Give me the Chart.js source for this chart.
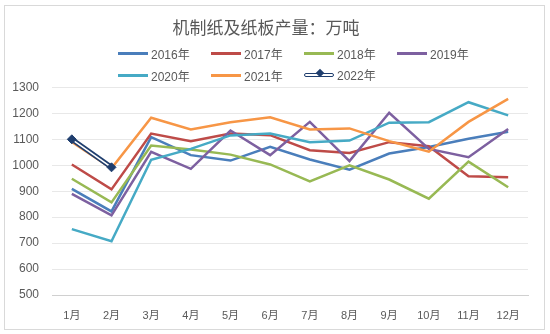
<!DOCTYPE html>
<html>
<head>
<meta charset="utf-8">
<script src="https://cdn.jsdelivr.net/npm/chart.js@4"></script>
<style>
  body { margin: 0; background: #fff; }
  #wrap { position: relative; width: 550px; height: 334px; }
  #frame { position: absolute; left: 4px; top: 5px; width: 539px; height: 323px; border: 1px solid #d9d9d9; pointer-events: none; }
  #legend { position: absolute; left: 118px; top: 43px; width: 380px; font: 12px "Liberation Sans", "Noto Sans CJK SC", sans-serif; color: #595959; }
  .item { display: inline-flex; align-items: center; width: 93px; height: 21px; }
  .swatch { position: relative; width: 30px; height: 3px; margin-right: 3px; }
</style>
</head>
<body>
<div id="wrap">
  <canvas id="myChart" width="550" height="334"></canvas>
  <div id="frame"></div>
  <div id="legend"></div>
</div>
<script>
var months = ['1月','2月','3月','4月','5月','6月','7月','8月','9月','10月','11月','12月'];
var years = ['2016年','2017年','2018年','2019年','2020年','2021年','2022年'];
var colors = ['#4a7ebb','#be4b48','#98b954','#7d60a0','#46aac5','#f79646','#1f3e6e'];

var y2016 = [909, 822, 1108, 1039, 1018, 1071, 1022, 983, 1045, 1070, 1102, 1129];
var y2017 = [1003, 907, 1122, 1093, 1122, 1116, 1058, 1047, 1089, 1073, 958, 954];
var y2018 = [948, 857, 1076, 1061, 1041, 1003, 938, 1000, 945, 871, 1014, 915];
var y2019 = [890, 807, 1052, 986, 1134, 1039, 1167, 1016, 1202, 1063, 1031, 1140];
var y2020 = [754, 707, 1021, 1063, 1115, 1122, 1089, 1095, 1164, 1166, 1243, 1192];
var y2021 = [1090, 988, 1183, 1138, 1166, 1185, 1138, 1142, 1093, 1052, 1167, 1256];
var y2022 = [1100, 992];

var yTicks = [500, 600, 700, 800, 900, 1000, 1100, 1200, 1300];

var series = [y2016, y2017, y2018, y2019, y2020, y2021];
var datasets = series.map(function (d, i) {
  return {
    label: years[i],
    data: d,
    borderColor: colors[i],
    borderWidth: 2.5,
    pointRadius: 0,
    tension: 0,
    order: 10 - i
  };
});
// 2022: navy outline, white inside, diamond markers
datasets.push({ label: years[6], data: y2022, borderColor: colors[6], borderWidth: 5, pointRadius: 0, order: 2 });
datasets.push({ label: years[6] + '-in', data: y2022, borderColor: '#ffffff', borderWidth: 1.6, pointRadius: 0, order: 1 });
datasets.push({ label: years[6] + '-pt', data: y2022, showLine: false, pointStyle: 'rectRot', pointRadius: 4.5,
  pointBackgroundColor: colors[6], pointBorderColor: colors[6], order: 0 });

var ctx = document.getElementById('myChart').getContext('2d');
var myChart = new Chart(ctx, {
  type: 'line',
  data: { labels: months, datasets: datasets },
  options: {
    responsive: false,
    animation: false,
    layout: { padding: { left: 4, right: 22, top: 0, bottom: 9 } },
    scales: {
      x: {
        offset: true,
        grid: { display: false, offset: true },
        border: { display: true, color: '#d0d0d0', width: 1 },
        ticks: { color: '#595959', font: { size: 11, family: '"Liberation Sans", "Noto Sans CJK SC", sans-serif' }, padding: 6, maxRotation: 0, autoSkip: false },
        afterFit: function (s) { s.height = 30; }
      },
      y: {
        min: 500,
        max: 1300,
        afterBuildTicks: function (s) { s.ticks = yTicks.map(function (v) { return { value: v }; }); },
        grid: { color: '#e8e8e8', drawTicks: false },
        border: { display: false },
        ticks: {
          color: '#595959',
          font: { size: 12, family: '"Liberation Sans", "Noto Sans CJK SC", sans-serif' },
          padding: 13,
          callback: function (v) { return String(v); }
        },
        afterFit: function (s) { s.width = 48; }
      }
    },
    plugins: {
      legend: { display: false },
      tooltip: { enabled: false },
      title: {
        display: true,
        text: '机制纸及纸板产量：万吨',
        color: '#595959',
        font: { size: 17, weight: 'normal', family: '"Noto Sans CJK SC", sans-serif' },
        padding: { top: 17, bottom: 50 }
      }
    }
  }
});

// html legend, two rows like the original
var legend = document.getElementById('legend');
years.forEach(function (y, i) {
  var item = document.createElement('div');
  item.className = 'item';
  var sw = document.createElement('span');
  sw.className = 'swatch';
  if (i === 6) {
    sw.style.height = '4px';
    sw.style.border = '1.5px solid ' + colors[6];
    sw.style.boxSizing = 'border-box';
    sw.style.borderRadius = '2px';
    sw.style.background = '#fff';
    var dot = document.createElement('span');
    dot.style.cssText = 'position:absolute;left:12px;top:-4px;width:6px;height:6px;background:' + colors[6] + ';transform:rotate(45deg);';
    sw.appendChild(dot);
  } else {
    sw.style.background = colors[i];
  }
  item.appendChild(sw);
  item.appendChild(document.createTextNode(y));
  legend.appendChild(item);
  if (i === 3) legend.appendChild(document.createElement('br'));
});
</script>
</body>
</html>
